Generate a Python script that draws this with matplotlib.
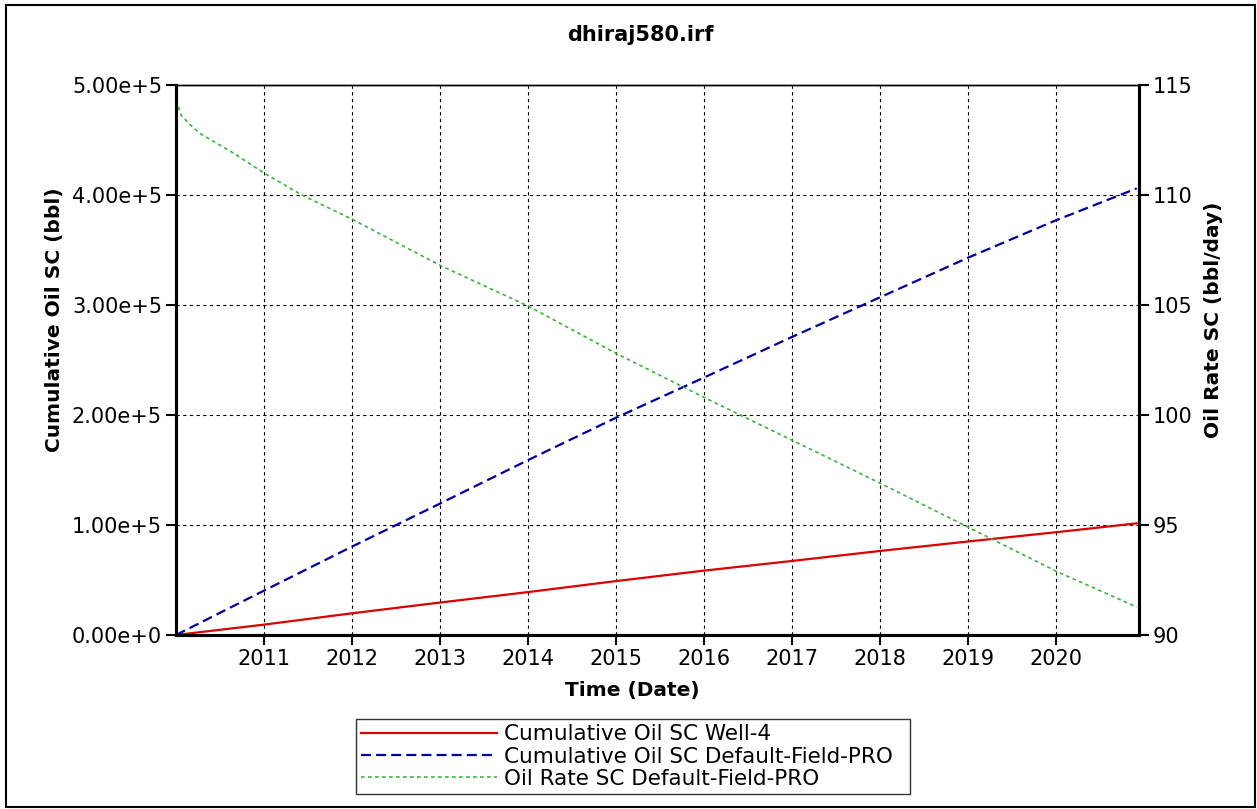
import pandas as pd
import numpy as np
import matplotlib
matplotlib.use("Agg")
import matplotlib.pyplot as plt
import matplotlib.dates as mdates
from matplotlib.patches import Rectangle
from matplotlib.ticker import FuncFormatter, MultipleLocator

# Kumulative Werte (jeweils zum Jahresanfang, letzter Punkt Ende Simulation)
cum_dates = ["2010-01-01", "2011-01-01", "2012-01-01", "2013-01-01", "2014-01-01",
             "2015-01-01", "2016-01-01", "2017-01-01", "2018-01-01", "2019-01-01",
             "2020-01-01", "2020-12-01"]
cum_well4 = [0, 9400, 19700, 29500, 39000, 49000, 58500, 67300, 76400, 85000, 93400, 101500]
cum_field = [0, 40300, 80300, 119500, 159000, 197500, 234000, 271000, 307000, 343000, 377000, 406000]

# Oelrate Feld
rate_dates = ["2010-01-01", "2010-01-24", "2010-02-28", "2010-04-10", "2010-08-28",
              "2011-01-01", "2011-06-07", "2012-01-01", "2013-01-01", "2014-01-01",
              "2015-01-01", "2016-01-01", "2017-01-01", "2018-01-01", "2019-01-01",
              "2020-01-01", "2020-12-01"]
rate_field = [114.3, 113.6, 113.2, 112.8, 111.9, 111.0, 110.0, 108.9, 106.8, 104.95,
              102.8, 100.8, 98.85, 96.9, 94.9, 92.9, 91.27]

tick_years = list(range(2011, 2021))

labels = ["Cumulative Oil SC Well-4",
          "Cumulative Oil SC Default-Field-PRO",
          "Oil Rate SC Default-Field-PRO"]

cum_dates = pd.to_datetime(cum_dates)
rate_dates = pd.to_datetime(rate_dates)


def sci_fmt(v, pos):
    if v == 0:
        return "0.00e+0"
    exp = int(np.floor(np.log10(abs(v))))
    return f"{v / 10**exp:.2f}e+{exp}"


fig = plt.figure(figsize=(12.57, 8.09), dpi=100)
ax = fig.add_axes([0.1400, 0.2151, 0.7661, 0.6799])
ax2 = ax.twinx()

l1, = ax.plot(cum_dates, cum_well4, color="#dc0000", lw=1.6)
l2, = ax.plot(cum_dates, cum_field, color="#0000a0", lw=1.6, dashes=(4.5, 2.3))
l3, = ax2.plot(rate_dates, rate_field, color="#3cb43c", lw=1.2, dashes=(2.2, 2.0))

ax.set_xlim(pd.Timestamp("2010-01-01"), pd.Timestamp("2020-12-10"))
ax.set_ylim(0, 5e5)
ax2.set_ylim(90, 115)

ax.set_xticks([pd.Timestamp(f"{y}-01-01") for y in tick_years])
ax.xaxis.set_major_formatter(mdates.DateFormatter("%Y"))
ax.yaxis.set_major_locator(MultipleLocator(1e5))
ax.yaxis.set_major_formatter(FuncFormatter(sci_fmt))
ax2.yaxis.set_major_locator(MultipleLocator(5))

ax.grid(True, color="black", lw=0.8, linestyle=(0, (3, 3)))

ax.tick_params(direction="out", length=7, width=1.5, labelsize=15, pad=3)
ax2.tick_params(direction="out", length=7, width=1.5, labelsize=15, pad=3)

for a in (ax, ax2):
    a.spines["top"].set_linewidth(1.0)
    a.spines["left"].set_linewidth(2.2)
    a.spines["bottom"].set_linewidth(2.2)
    a.spines["right"].set_linewidth(2.2)

ax.set_title("dhiraj580.irf", fontsize=15, fontweight="bold", x=0.482, pad=32)
ax.set_xlabel("Time (Date)", fontsize=14.5, fontweight="bold")
ax.xaxis.set_label_coords(0.4735, -0.083)
ax.set_ylabel("Cumulative Oil SC (bbl)", fontsize=14.5, fontweight="bold")
ax.yaxis.set_label_coords(-0.116, 0.573)
ax2.set_ylabel("Oil Rate SC (bbl/day)", fontsize=14.5, fontweight="bold")
ax2.yaxis.set_label_coords(1.0675, 0.573)

leg = fig.legend([l1, l2, l3], labels, loc="upper left",
                 bbox_to_anchor=(356 / 1257, 1 - 797 / 809, 554 / 1257, 78 / 809),
                 mode="expand",
                 fontsize=15.5, frameon=True, fancybox=False, shadow=False,
                 handlelength=6.3, handletextpad=0.33, labelspacing=0.1,
                 borderpad=0.25, borderaxespad=0)
leg.get_frame().set_edgecolor("black")
leg.get_frame().set_linewidth(1.0)

# Rahmen um die ganze Grafik
fig.patches.append(Rectangle((6 / 1257, 2 / 809), 1249 / 1257, 802 / 809,
                             transform=fig.transFigure, fill=False,
                             edgecolor="black", lw=1.5))

fig.savefig("out.png", dpi=100)
